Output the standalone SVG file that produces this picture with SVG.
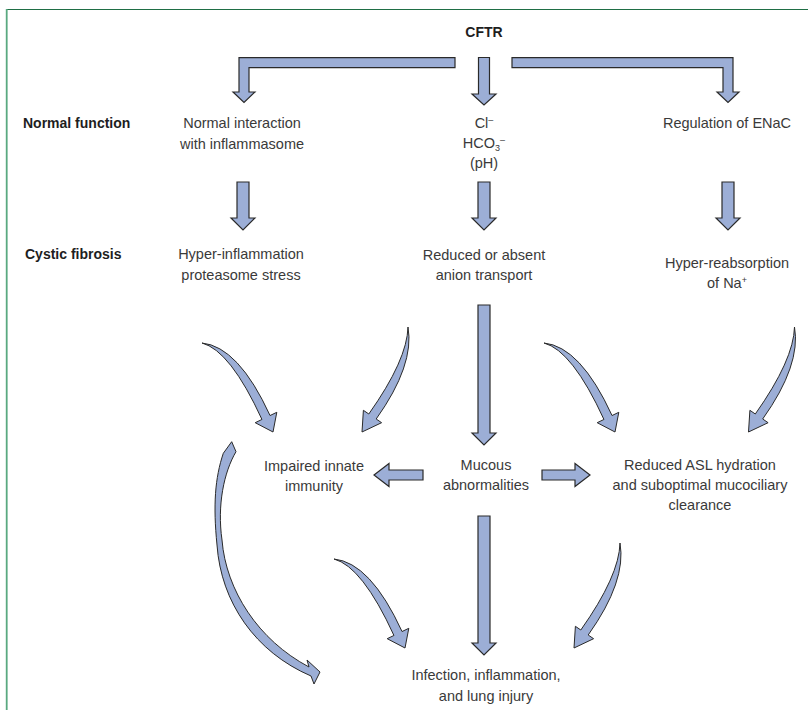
<svg xmlns="http://www.w3.org/2000/svg" xmlns:xlink="http://www.w3.org/1999/xlink" width="808" height="710" viewBox="0 0 808 710">
<style>
.t{font-family:"Liberation Sans",Arial,sans-serif;font-size:14.5px;fill:#3a3a3a;text-anchor:middle}
.b{font-family:"Liberation Sans",Arial,sans-serif;font-size:14px;font-weight:bold;fill:#1e1e1e}
.a{fill:#9caed6;stroke:#2a2a2a;stroke-width:1.2;stroke-linejoin:miter}
.c{fill:#9caed6;stroke:#2a2a2a;stroke-width:1;stroke-linejoin:miter}
</style>
<defs>
<path id="cvA" d="M202,343 Q238.4,346.6 270.05,415.54 L276.8,412.3 L273,432 L255.2,422.7 L261.95,419.46 Q230.3,350.5 202,343 Z"/>
<path id="cvB" d="M408,327 Q414.7,364.9 376.2,419 L381.6,422.7 L362,432 L363.4,410.3 L368.8,414 Q407.2,359.8 408,327 Z"/>
</defs>
<rect width="808" height="710" fill="#ffffff"/>
<g id="frame">
<line x1="6" y1="9.5" x2="808" y2="9.5" stroke="#1f6e45" stroke-width="1.2"/>
<rect x="5.8" y="9" width="1.8" height="701" fill="#5aa980"/>
</g>
<g id="connectors">
<polygon class="a" points="455,57.7 239,57.7 239,92 233,92 244,102.5 255,92 249,92 249,67.7 455,67.7"/>
<polygon class="a" points="478.5,57.5 489.5,57.5 489.5,94 496,94 484,105 472,94 478.5,94"/>
<polygon class="a" points="512,57.7 733,57.7 733,92 739,92 728,102.5 717,92 723,92 723,67.7 512,67.7"/>
<polygon class="a" points="237,182 249,182 249,218 255,218 243,230 231,218 237,218"/>
<polygon class="a" points="478,182 490,182 490,218 496,218 484,230 472,218 478,218"/>
<polygon class="a" points="722,182 734,182 734,218 740,218 728,230 716,218 722,218"/>
<polygon class="a" points="478,305 490,305 490,433 496,433 484,445 472,433 478,433"/>
<polygon class="a" points="478,516 490,516 490,643 496,643 484,655 472,643 478,643"/>
<polygon class="a" points="423,470 389,470 389,463.5 374,475 389,486.5 389,480 423,480"/>
<polygon class="a" points="542,470 575,470 575,463.5 590,475 575,486.5 575,480 542,480"/>
<use xlink:href="#cvA" class="c"/>
<use xlink:href="#cvB" class="c"/>
<use xlink:href="#cvA" class="c" transform="translate(342,0)"/>
<use xlink:href="#cvB" class="c" transform="translate(386.5,0)"/>
<use xlink:href="#cvA" class="c" transform="translate(132,216)"/>
<use xlink:href="#cvB" class="c" transform="translate(212,216)"/>
<path class="c" d="M231.7,441.7 L236,451.7 C224,472 217,505 222,540 C226,590 258,640 309,667 L307,660 L320,672 L314,684 L311,676 C255,652 221,602 217,545 C213,505 215,478 223.3,453.3 Z"/>
</g>
<g id="cftr"><text class="b" x="484" y="37" text-anchor="middle">CFTR</text></g>
<g id="label_normal"><text class="b" x="23" y="128">Normal function</text></g>
<g id="label_cf"><text class="b" x="25" y="259">Cystic fibrosis</text></g>
<g id="n_inflammasome"><text class="t" x="242" y="128">Normal interaction</text><text class="t" x="242" y="149">with inflammasome</text></g>
<g id="n_ions">
<text class="t" x="484" y="128">Cl<tspan font-size="9" dy="-5">–</tspan></text>
<text class="t" x="484" y="148">HCO<tspan font-size="9" dy="3">3</tspan><tspan font-size="9" dy="-8">–</tspan></text>
<text class="t" x="484" y="168">(pH)</text>
</g>
<g id="n_enac"><text class="t" x="727" y="128">Regulation of ENaC</text></g>
<g id="n_hyperinflammation"><text class="t" x="241" y="259">Hyper-inflammation</text><text class="t" x="241" y="280">proteasome stress</text></g>
<g id="n_anion"><text class="t" x="484" y="260">Reduced or absent</text><text class="t" x="484" y="280">anion transport</text></g>
<g id="n_na"><text class="t" x="727" y="268">Hyper-reabsorption</text><text class="t" x="727" y="288">of Na<tspan font-size="9" dy="-5">+</tspan></text></g>
<g id="n_immunity"><text class="t" x="314" y="471">Impaired innate</text><text class="t" x="314" y="491">immunity</text></g>
<g id="n_mucous"><text class="t" x="486" y="470">Mucous</text><text class="t" x="486" y="490">abnormalities</text></g>
<g id="n_asl"><text class="t" x="700" y="470">Reduced ASL hydration</text><text class="t" x="700" y="490">and suboptimal mucociliary</text><text class="t" x="700" y="510">clearance</text></g>
<g id="n_infection"><text class="t" x="486" y="680">Infection, inflammation,</text><text class="t" x="486" y="701">and lung injury</text></g>
</svg>
